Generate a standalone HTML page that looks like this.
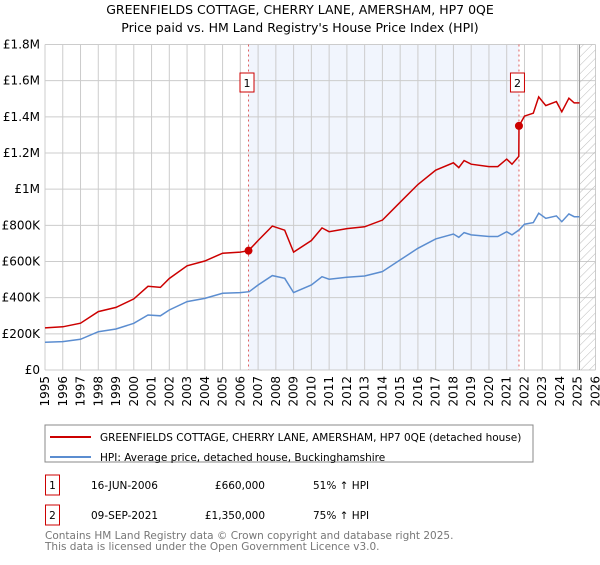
<!DOCTYPE html>
<html><head><meta charset="utf-8"><style>
body{margin:0;background:#fff;font-family:"Liberation Sans","DejaVu Sans",sans-serif;}
svg text{font-family:"DejaVu Sans","Liberation Sans",sans-serif;}
</style></head><body>
<svg id="c" width="600" height="560" xmlns="http://www.w3.org/2000/svg">
<defs><pattern id="hatch" width="6" height="6" patternUnits="userSpaceOnUse" patternTransform="rotate(45)"><line x1="0" y1="0" x2="0" y2="6" stroke="#bbb" stroke-width="1"/></pattern></defs>
<text x="300" y="14" text-anchor="middle" font-size="12.5">GREENFIELDS COTTAGE, CHERRY LANE, AMERSHAM, HP7 0QE</text>
<text x="300" y="32" text-anchor="middle" font-size="12.5">Price paid vs. HM Land Registry's House Price Index (HPI)</text>
<g id="plot"></g>
<rect x="45" y="425" width="488" height="37" fill="#fff" stroke="#888"/>
<line x1="50" y1="437" x2="91" y2="437" stroke="#cc0000" stroke-width="2"/>
<text x="100" y="441" font-size="10.5">GREENFIELDS COTTAGE, CHERRY LANE, AMERSHAM, HP7 0QE (detached house)</text>
<line x1="50" y1="457" x2="91" y2="457" stroke="#5b8dd0" stroke-width="2"/>
<text x="100" y="461" font-size="10.5">HPI: Average price, detached house, Buckinghamshire</text>
<g font-size="10.5">
<rect x="45.5" y="475" width="14" height="20" fill="none" stroke="#cc0000"/>
<text x="52.5" y="489" text-anchor="middle">1</text>
<text x="91" y="489">16-JUN-2006</text>
<text x="265" y="489" text-anchor="end">£660,000</text>
<text x="313" y="489">51% ↑ HPI</text>
<rect x="45.5" y="505" width="14" height="20" fill="none" stroke="#cc0000"/>
<text x="52.5" y="519" text-anchor="middle">2</text>
<text x="91" y="519">09-SEP-2021</text>
<text x="265" y="519" text-anchor="end">£1,350,000</text>
<text x="313" y="519">75% ↑ HPI</text>
</g>
<text x="45" y="539" font-size="10.5" fill="#777">Contains HM Land Registry data © Crown copyright and database right 2025.</text>
<text x="45" y="550" font-size="10.5" fill="#777">This data is licensed under the Open Government Licence v3.0.</text>
</svg>
<script>
const hpiYears=[1995,1996,1997,1998,1999,2000,2000.8,2001.5,2002,2003,2004,2005,2006,2006.5,2007,2007.8,2008.5,2009,2010,2010.6,2011,2012,2013,2014,2015,2016,2017,2018,2018.3,2018.6,2019,2020,2020.5,2021,2021.3,2021.7,2022,2022.5,2022.8,2023.2,2023.8,2024.1,2024.5,2024.8,2025.1];
const hpiValues=[153,157,170,212,227,258,304,300,332,378,396,424,428,433,470,522,507,428,470,516,502,513,520,544,609,673,725,752,734,760,747,738,738,765,747,775,806,815,867,839,852,820,863,848,848];
const redYears=[1995,1996,1997,1998,1999,2000,2000.8,2001.5,2002,2003,2004,2005,2006,2006.46,2007,2007.8,2008.5,2009,2010,2010.6,2011,2012,2013,2014,2015,2016,2017,2018,2018.3,2018.6,2019,2020,2020.5,2021,2021.3,2021.68,2021.69,2022,2022.5,2022.8,2023.2,2023.8,2024.1,2024.5,2024.8,2025.1];
const redValues=[233,239,259,323,346,393,463,457,506,576,603,646,652,660,716,796,773,652,716,786,765,782,792,829,928,1026,1105,1146,1119,1158,1138,1125,1125,1166,1138,1181,1350,1404,1420,1510,1462,1484,1428,1503,1477,1477];
const saleYears=[2006.46,2021.69];
const saleValues=[660,1350];
const saleLabels=["1","2"];
const yTicks=[0,200,400,600,800,1000,1200,1400,1600,1800];
const yTickLabels=["£0","£200K","£400K","£600K","£800K","£1M","£1.2M","£1.4M","£1.6M","£1.8M"];
const xTicks=[];for(let y=1995;y<=2026;y++)xTicks.push(y);
const X0=45,X1=595.5,Y0=370,Y1=44.5,forecastStart=2025.1;
const xs=v=>X0+(v-1995)/(2026-1995)*(X1-X0);
const ys=v=>Y0-v/1800*(Y0-Y1);
const NS="http://www.w3.org/2000/svg";
const g=document.getElementById('plot');
function mk(t,a){const e=document.createElementNS(NS,t);for(const k in a)e.setAttribute(k,a[k]);g.appendChild(e);return e;}
let e=mk('rect',{x:xs(saleYears[0]),y:Y1,width:xs(saleYears[1])-xs(saleYears[0]),height:Y0-Y1,fill:'#eef3fc',opacity:0.8});


xTicks.forEach(t=>{const l=mk('line',{x1:xs(t),x2:xs(t),y1:Y1,y2:Y0,stroke:'#ccc'});


const tx=mk('text',{x:0,y:0,'font-size':12,'text-anchor':'end',transform:`translate(${xs(t)+4},${Y0+6}) rotate(-90)`});tx.textContent=t;

});
yTicks.forEach((t,i)=>{const l=mk('line',{x1:X0,x2:X1,y1:ys(t),y2:ys(t),stroke:'#ccc'});


const tx=mk('text',{x:X0-5,y:ys(t)+4,'font-size':12,'text-anchor':'end'});tx.textContent=yTickLabels[i];

});
e=mk('rect',{x:xs(forecastStart),y:Y1,width:X1-xs(forecastStart),height:Y0-Y1,fill:'url(#hatch)'});


e=mk('line',{x1:xs(forecastStart),x2:xs(forecastStart),y1:Y1,y2:Y0,stroke:'#999'});


saleYears.forEach((s,i)=>{const l=mk('line',{x1:xs(s),x2:xs(s),y1:Y1,y2:Y0,stroke:'#e06060','stroke-dasharray':'2,3'});


const r=mk('rect',{x:xs(s)-8.5,y:73,width:14,height:19,fill:'#fff',stroke:'#cc0000'});


const t=mk('text',{x:xs(s)-1.5,y:87,'font-size':11,'text-anchor':'middle'});t.textContent=saleLabels[i];

});
function path(xa,va){return xa.map((x,i)=>(i?'L':'M')+xs(x).toFixed(1)+','+ys(va[i]).toFixed(1)).join('');}
e=mk('path',{d:path(hpiYears,hpiValues),fill:'none',stroke:'#5b8dd0','stroke-width':1.5});


e=mk('path',{d:path(redYears,redValues),fill:'none',stroke:'#cc0000','stroke-width':1.5});


saleYears.forEach((s,i)=>{const c=mk('circle',{cx:xs(s),cy:ys(saleValues[i]),r:4,fill:'#cc0000'});

});
</script>
</body></html>
